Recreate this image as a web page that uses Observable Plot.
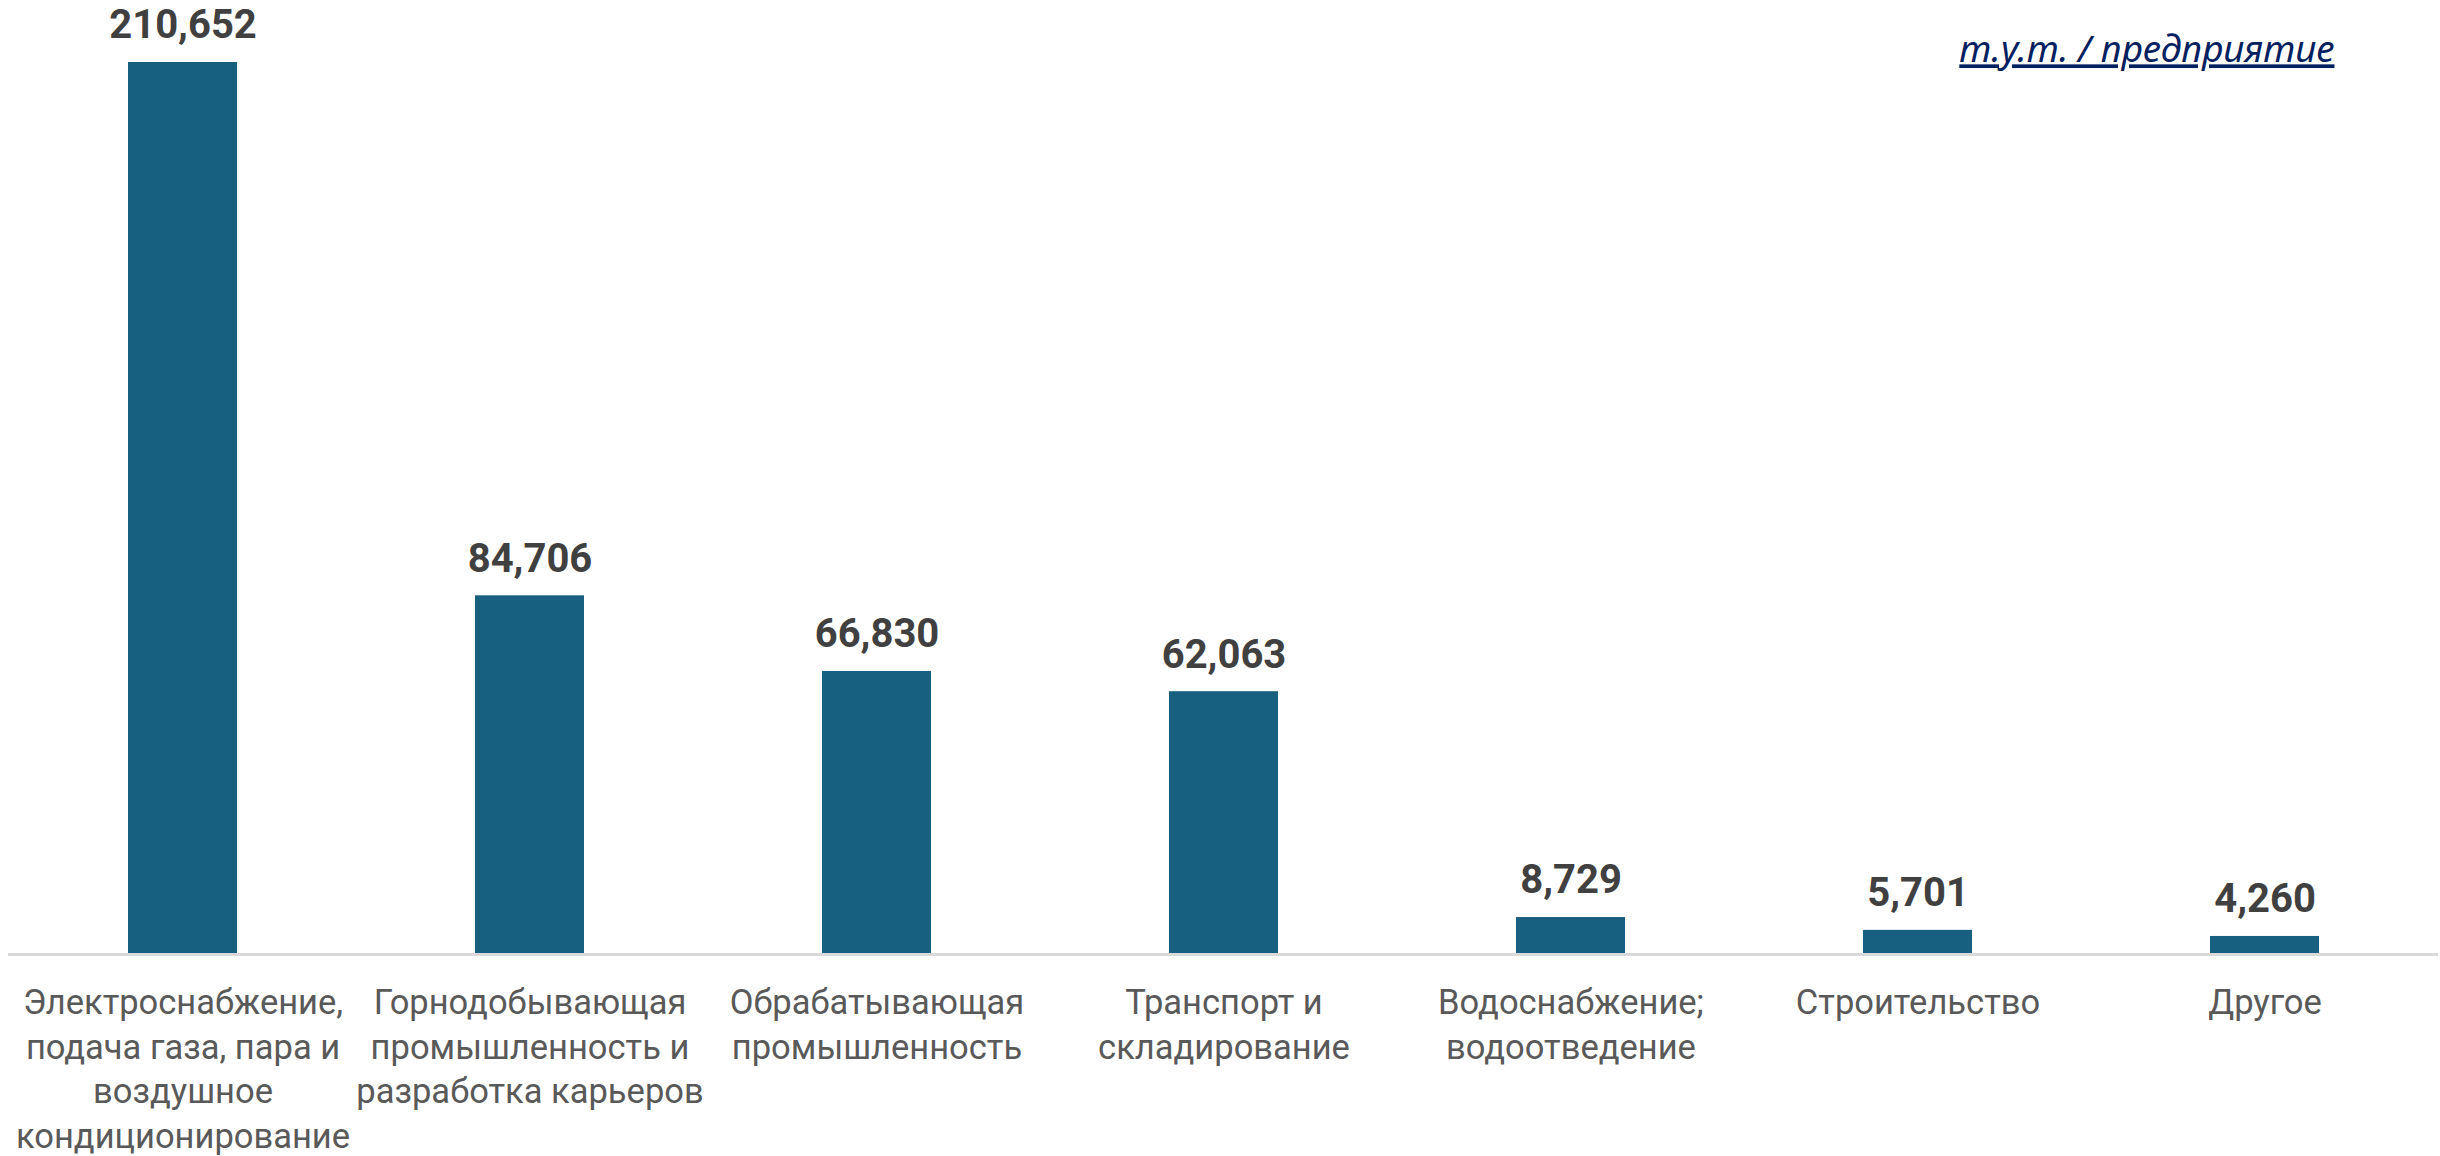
<!DOCTYPE html>
<html>
<head>
<meta charset="utf-8">
<script src="https://cdn.jsdelivr.net/npm/d3@7"></script>
<script src="https://cdn.jsdelivr.net/npm/@observablehq/plot@0.6"></script>
<style>
  html, body { margin: 0; padding: 0; background: #fff; }
  #chart { width: 2440px; height: 1156px; }
</style>
</head>
<body>
<div id="chart"></div>
<script>
const categories = [
  "Электроснабжение,\nподача газа, пара и\nвоздушное\nкондиционирование",
  "Горнодобывающая\nпромышленность и\nразработка карьеров",
  "Обрабатывающая\nпромышленность",
  "Транспорт и\nскладирование",
  "Водоснабжение;\nводоотведение",
  "Строительство",
  "Другое"
];
const values = [210652, 84706, 66830, 62063, 8729, 5701, 4260];
const unitLabel = "т.у.т. / предприятие";

const data = categories.map((c, i) => ({category: c, value: values[i]}));
const fmt = d3.format(",");

const chart = Plot.plot({
  width: 2440,
  height: 1156,
  marginTop: 62,
  marginBottom: 202,
  marginLeft: 8,
  marginRight: 2,
  style: {fontFamily: "Roboto, sans-serif", background: "#fff"},
  x: {domain: categories, paddingInner: 0.686, paddingOuter: 0.335, axis: null},
  y: {domain: [0, 210652], axis: null},
  marks: [
    Plot.barY(data, {x: "category", y: "value", fill: "#17607f"}),
    Plot.ruleY([0], {stroke: "#d9d9d9", strokeWidth: 3}),
    Plot.text(data, {
      x: "category", y: "value", text: d => fmt(d.value),
      dy: -37, lineAnchor: "middle", fontSize: 40, fontWeight: "bold", fill: "#404040"
    }),
    Plot.text(data, {
      x: "category", y: 0, text: "category",
      dy: 28, lineAnchor: "top", lineHeight: 1.29, fontSize: 34.5, fill: "#595959"
    }),
    Plot.text([unitLabel], {
      frameAnchor: "top-right", text: d => d, dx: -104, dy: -12,
      textAnchor: "end", lineAnchor: "middle", fontSize: 37, fontStyle: "italic",
      fill: "#002060", fontFamily: "'Noto Sans', 'Open Sans', sans-serif", className: "unit-label"
    })
  ]
});
d3.select(chart).selectAll(".unit-label text").style("text-decoration", "underline");
document.getElementById("chart").appendChild(chart);
</script>
</body>
</html>
